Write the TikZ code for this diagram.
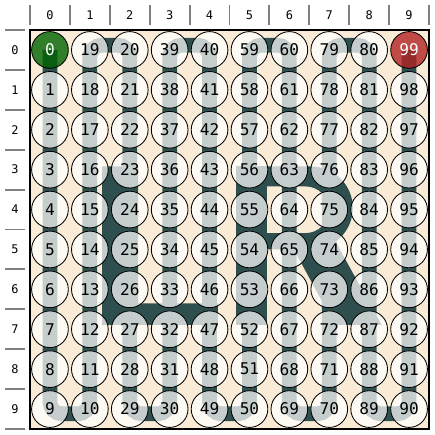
\documentclass[tikz,border=0pt]{standalone}
\usepackage{fontspec}
\setmonofont{DejaVu Sans Mono}
\definecolor{slate}{RGB}{47,79,79}
\definecolor{parchment}{RGB}{250,235,215}
\definecolor{startgreen}{RGB}{0,100,0}
\definecolor{endred}{RGB}{178,34,34}
\definecolor{rulegray}{RGB}{128,128,128}

\begin{document}
\begin{tikzpicture}[
  cellnode/.style={circle, draw=black, line width=0.6pt, minimum size=0.92cm, inner sep=0pt,
    fill=white, fill opacity=0.72, text opacity=1, font=\ttfamily\fontsize{11.5}{12}\selectfont},
  startnode/.style={cellnode, fill=startgreen, fill opacity=0.8, text=white},
  endnode/.style={cellnode, fill=endred, fill opacity=0.8, text=white},
  snake/.style={draw=slate, line width=0.37cm, rounded corners=0.3cm},
  ruletick/.style={draw=rulegray, line width=1.4pt},
  axislbl/.style={font=\ttfamily\fontsize{8.5}{9}\selectfont}
]
\useasboundingbox (-0.752,0.752) rectangle (10.15,-10.15);
\fill[parchment] (0,0) rectangle (10,-10);

% the letters L and R behind the board
\fill[slate] (1.81,-3.42) -- (2.71,-3.42) -- (2.71,-6.85) -- (4.71,-6.85) -- (4.71,-7.39) -- (1.81,-7.39) -- cycle;
\fill[slate] (5.17,-3.42) rectangle (5.93,-7.39);
\fill[slate, even odd rule] (5.17,-3.42) -- (7.05,-3.42) arc[start angle=90, end angle=-90, radius=1.04] -- (5.17,-5.5) -- cycle
  (5.93,-3.92) -- (6.905,-3.92) arc[start angle=90, end angle=-90, radius=0.585] -- (5.93,-5.09) -- cycle;
\fill[slate] (6.45,-5.2) -- (7.6,-5.2) -- (8.81,-7.39) -- (7.64,-7.39) -- cycle;

% cell centres, numbered column by column
\foreach \c in {0,...,9} {
  \foreach \r in {0,...,9} {
    \pgfmathtruncatemacro\n{mod(\c,2)==0 ? 10*\c+\r : 10*\c+9-\r}
    \coordinate (p\n) at (\c+0.5,-\r-0.5);
  }
}

\draw[snake] (p0) -- ([yshift=-1.2mm]p9) -- ([yshift=-1.2mm]p10) -- ([yshift=1.2mm]p19)
  -- ([yshift=1.2mm]p20) -- ([yshift=-1.2mm]p29) -- ([yshift=-1.2mm]p30) -- ([yshift=1.2mm]p39)
  -- ([yshift=1.2mm]p40) -- ([yshift=-1.2mm]p49) -- ([yshift=-1.2mm]p50) -- ([yshift=1.2mm]p59)
  -- ([yshift=1.2mm]p60) -- ([yshift=-1.2mm]p69) -- ([yshift=-1.2mm]p70) -- ([yshift=1.2mm]p79)
  -- ([yshift=1.2mm]p80) -- ([yshift=-1.2mm]p89) -- ([yshift=-1.2mm]p90) -- (p99);

\foreach \n in {1,...,98}
  \node[cellnode] (c\n) at (p\n) {\n};
\node[startnode] (c0) at (p0) {0};
\node[endnode] (c99) at (p99) {99};

\draw[line width=1.4pt] (0,0) rectangle (10,-10);

% rulers
\foreach \k in {0,...,10} {
  \draw[ruletick] (\k,0.125) -- (\k,0.627);
  \draw[ruletick] (-0.627,-\k) -- (-0.125,-\k);
}
\foreach \k in {0,...,9} {
  \node[axislbl] (col\k) at (\k+0.5,0.376) {\k};
  \node[axislbl] (row\k) at (-0.376,-\k-0.5) {\k};
}
\end{tikzpicture}
\end{document}
